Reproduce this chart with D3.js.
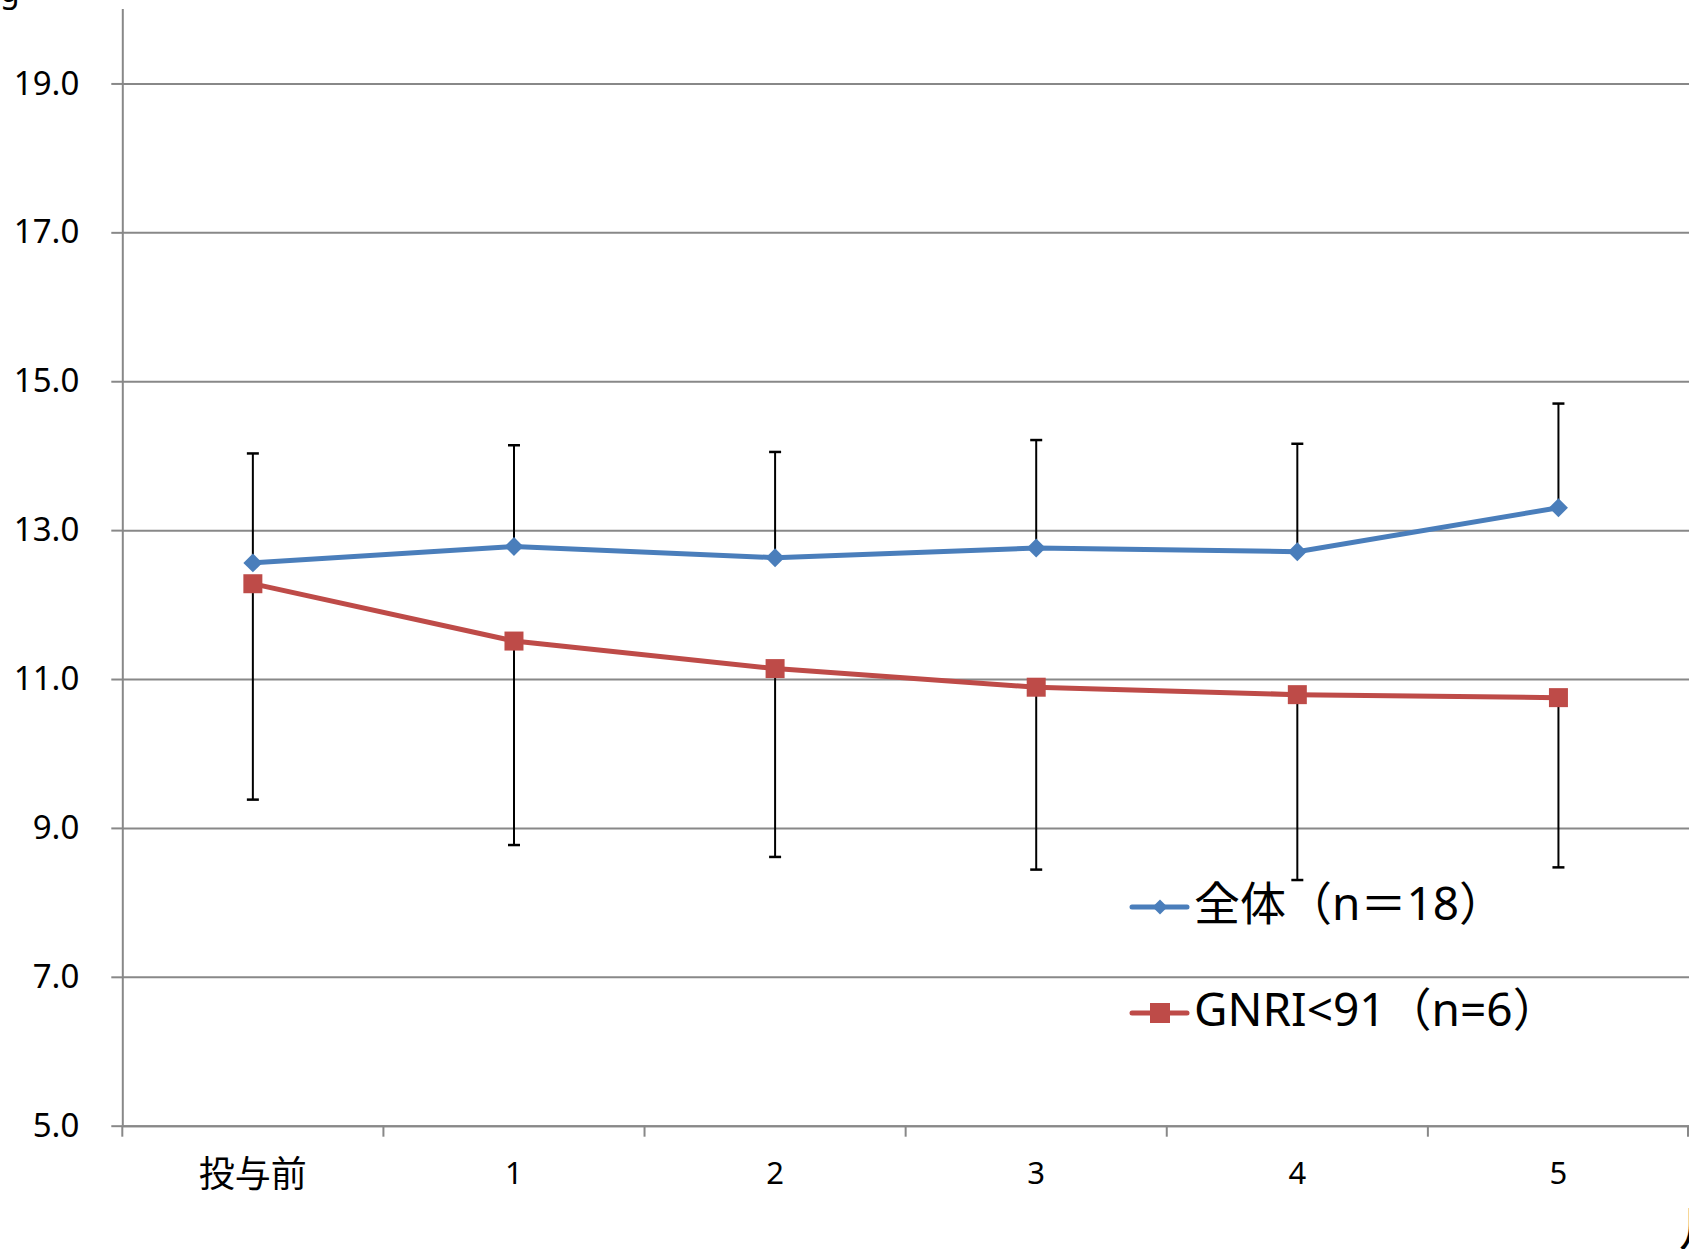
<!DOCTYPE html>
<html>
<head>
<meta charset="utf-8">
<script src="https://cdn.jsdelivr.net/npm/d3@7"></script>
<style>
  body { margin: 0; background: #fff; }
  svg text { font-family: "Noto Sans", "Noto Sans CJK JP", sans-serif; fill: #000; }
</style>
</head>
<body>
<div id="grafico"></div>
<script>
// Datos
const categorias = ["投与前", "1", "2", "3", "4", "5"];
const mediaTotal = [12.56, 12.78, 12.63, 12.76, 12.71, 13.30];
const sdTotal = [1.47, 1.36, 1.42, 1.45, 1.45, 1.40];
const mediaGnri = [12.28, 11.51, 11.14, 10.89, 10.79, 10.75];
const sdGnri = [2.90, 2.74, 2.53, 2.45, 2.49, 2.28];
const ticksY = [5, 7, 9, 11, 13, 15, 17, 19];
const series = [
    { nombre: "全体（n＝18）", media: mediaTotal, sd: sdTotal, color: "#4A7EBB", marca: "diamante", dir: 1 },
    { nombre: "GNRI<91（n=6）", media: mediaGnri, sd: sdGnri, color: "#BE4B48", marca: "cuadrado", dir: -1 }
];

const width = 1689, height = 1249;
const mIzq = 122.3, mInf = 1125.7, mSup = 9;
const gris = "#888888";

const svg = d3.select("#grafico")
    .append("svg")
    .attr("width", width)
    .attr("height", height);

const x = d3.scaleBand()
    .domain(categorias)
    .range([mIzq, width])
    .padding(0);

const y = d3.scaleLinear()
    .domain([5, 20])
    .range([mInf, mSup]);

const cx = d => x(d) + x.bandwidth() / 2;

// líneas de cuadrícula
svg.append("g")
    .attr("transform", `translate(${mIzq},0)`)
    .call(d3.axisLeft(y).tickValues(ticksY).tickSize(-(width - mIzq)).tickFormat(""))
    .call(g => g.select(".domain").remove())
    .selectAll("line").attr("stroke", gris).attr("stroke-width", 2);

// eje Y
const ejeY = svg.append("g")
    .attr("transform", `translate(${mIzq},0)`)
    .call(d3.axisLeft(y).tickValues(ticksY).tickSize(11).tickPadding(32).tickFormat(d3.format(".1f")));
ejeY.select(".domain").attr("stroke", gris).attr("stroke-width", 2).attr("d", `M0.5,${mSup}V${mInf}`);
ejeY.selectAll("line").attr("stroke", gris).attr("stroke-width", 2);
ejeY.selectAll("text").style("font-size", "33px");

// eje X
const ejeX = svg.append("g")
    .attr("transform", `translate(0,${mInf})`)
    .call(d3.axisBottom(x).tickSize(0).tickPadding(36));
ejeX.select(".domain").attr("stroke", gris).attr("stroke-width", 2);
ejeX.selectAll("text").style("font-size", d => d === "投与前" ? "36px" : "31px");

const bordes = categorias.map(c => x(c)).concat([width - 1]);
svg.append("g").selectAll("line")
    .data(bordes)
    .enter()
    .append("line")
    .attr("x1", d => d).attr("x2", d => d)
    .attr("y1", mInf).attr("y2", mInf + 11)
    .attr("stroke", gris).attr("stroke-width", 2);

// leyenda
const leyenda = svg.append("g");
series.forEach((s, i) => {
    const ly = 907 + i * 106;
    leyenda.append("line")
        .attr("x1", 1132).attr("x2", 1187)
        .attr("y1", ly).attr("y2", ly)
        .attr("stroke", s.color).attr("stroke-width", 5).attr("stroke-linecap", "round");
    leyenda.append("path")
        .attr("d", s.marca === "diamante" ? d3.symbol(d3.symbolSquare, 112)() : d3.symbol(d3.symbolSquare, 400)())
        .attr("transform", `translate(1160,${ly}) rotate(${s.marca === "diamante" ? 45 : 0})`)
        .attr("fill", s.color);
    leyenda.append("text")
        .attr("x", 1194)
        .attr("y", ly)
        .attr("dy", "0.28em")
        .style("font-size", "46px")
        .text(s.nombre);
});

// barras de error (total hacia arriba, GNRI hacia abajo)
series.forEach(s => {
    const g = svg.append("g");
    categorias.forEach((c, i) => {
        const y0 = y(s.media[i]);
        const y1 = y(s.media[i] + s.dir * s.sd[i]);
        g.append("line")
            .attr("x1", cx(c)).attr("x2", cx(c))
            .attr("y1", y0).attr("y2", y1)
            .attr("stroke", "#000").attr("stroke-width", 2);
        g.append("line")
            .attr("x1", cx(c) - 6).attr("x2", cx(c) + 6)
            .attr("y1", y1).attr("y2", y1)
            .attr("stroke", "#000").attr("stroke-width", 2.5);
    });
});

// líneas y marcadores
series.slice().reverse().forEach(s => {
    const linea = d3.line()
        .x((d, i) => cx(categorias[i]))
        .y(d => y(d));
    svg.append("path")
        .datum(s.media)
        .attr("d", linea)
        .attr("fill", "none")
        .attr("stroke", s.color)
        .attr("stroke-width", 5);
    svg.selectAll(null)
        .data(s.media)
        .enter()
        .append("path")
        .attr("d", s.marca === "diamante" ? d3.symbol(d3.symbolSquare, 180)() : d3.symbol(d3.symbolSquare, 361)())
        .attr("transform", (d, i) => `translate(${cx(categorias[i])},${y(d)}) rotate(${s.marca === "diamante" ? 45 : 0})`)
        .attr("fill", s.color);
});

// textos recortados en los bordes
svg.append("text")
    .attr("x", 0).attr("y", 2)
    .style("font-size", "32px")
    .text("g");
svg.append("text")
    .attr("x", 1679).attr("y", 1246)
    .style("font-size", "48px")
    .text("月");
</script>
</body>
</html>
